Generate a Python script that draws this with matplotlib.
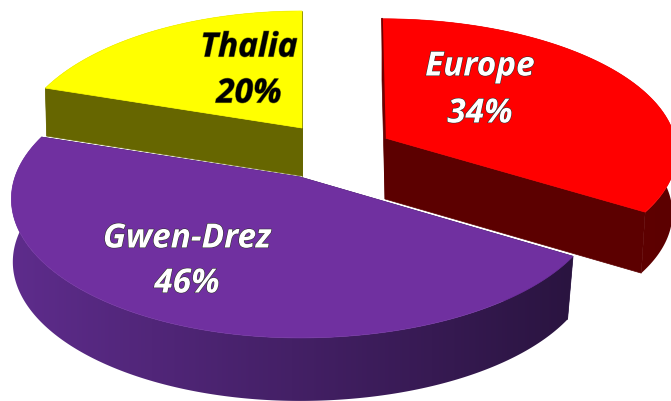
import numpy as np
import matplotlib
matplotlib.use("Agg")
import matplotlib.pyplot as plt
from matplotlib.colors import to_rgb
from matplotlib.patches import Polygon
import matplotlib.patheffects as pe

# DATA
names = ["Europe", "Gwen-Drez", "Thalia"]
shares = [34, 46, 20]

# STYLE
top_colors = ["#ff0000", "#7030a0", "#ffff00"]
wall_colors = ["#5c0000", "#2c1646", "#666600"]
rim_left = ["#6a0000", "#5e2c8c", "#666600"]
rim_right = ["#5c0000", "#2a1440", "#666600"]
text_colors = ["white", "white", "black"]
# apex x, apex y, half width left, half width right, y scale, perspective, depth, skew, taper
geometry = [
    (385, 139, 290, 290, 131, 0.099, 61, 3, 0.985),
    (300, 178, 285, 296, 135.5, 0.158, 63, 0, 0.98),
    (302, 129, 283, 283, 135.5, 0.158, 48, 0, 0.99),
]
label_pos = [(480, 68, 115), (187, 240, 285), (249, 49, 95)]


def project(theta, geo):
    cx, cy, al, ar, g, k, depth, skew, taper = geo
    f = -np.cos(theta)
    den = 1 - k * f
    s = np.sin(theta)
    return cx + np.where(s > 0, ar, al) * s / den + skew * f, cy + g * f / den


def drop(x, y, geo):
    # the lower edge narrows a little on the right hand side, hardly on the left
    dx = np.asarray(x, dtype=float) - geo[0]
    return geo[0] + np.where(dx > 0, dx * geo[8], dx * 0.995), np.asarray(y, dtype=float) + geo[6]


def draw_slice(ax, i, start, end, z):
    geo = geometry[i]
    theta = np.linspace(start, end, 240)
    x, y = project(theta, geo)
    bx, by = drop(x, y, geo)
    cx, cy = geo[0], geo[1]
    ax_b, ay_b = drop(cx, cy, geo)

    # flat cut walls
    ax.fill([x[0], cx, ax_b, bx[0]], [y[0], cy, ay_b, by[0]], color=wall_colors[i], lw=0.5, zorder=z)
    ax.fill([x[-1], cx, ax_b, bx[-1]], [y[-1], cy, ay_b, by[-1]], color=wall_colors[i], lw=0.5, zorder=z)

    # outer rim, left to right shade clipped to the rim outline
    c0 = np.array(to_rgb(rim_left[i]))
    c1 = np.array(to_rgb(rim_right[i]))
    ramp = np.linspace(0, 1, 256)[None, :, None]
    rim = Polygon(np.c_[np.r_[x, bx[::-1]], np.r_[y, by[::-1]]], closed=True,
                  facecolor="none", edgecolor="none", zorder=z)
    ax.add_patch(rim)
    im = ax.imshow(c0 + (c1 - c0) * ramp, extent=(x.min(), x.max(), 402, 0), aspect="auto", zorder=z + 0.1)
    im.set_clip_path(rim)

    # top face
    ax.fill(np.r_[cx, x], np.r_[cy, y], color=top_colors[i], lw=0.5, zorder=z + 0.2)


fig = plt.figure(figsize=(6.71, 4.02), dpi=100, facecolor="white")
ax = fig.add_axes([0, 0, 1, 1])
ax.axis("off")

edges = np.r_[0, np.cumsum(shares)] / sum(shares) * 2 * np.pi
draw_slice(ax, 2, edges[2], edges[3], 1)
draw_slice(ax, 0, edges[0], edges[1], 2)
draw_slice(ax, 1, edges[1], edges[2], 3)

# thin dark sliver on the back cut of Europe
ex, ey = project(edges[0], geometry[0])
ax.plot([ex, geometry[0][0]], [ey, geometry[0][1]], color="#700000", lw=1.2, zorder=2.5)

ax.set_xlim(0, 671)
ax.set_ylim(402, 0)

for i, name in enumerate(names):
    lx, ly1, ly2 = label_pos[i]
    shadow = "#303030" if text_colors[i] == "white" else "#8a8a00"
    for txt, yy in [(name, ly1), (str(shares[i]) + "%", ly2)]:
        ax.text(lx, yy, txt, color=text_colors[i], fontsize=24, family="Open Sans",
                fontweight="bold", fontstyle="italic", ha="center", va="center", zorder=5,
                path_effects=[pe.withStroke(linewidth=0.8, foreground=shadow)])

fig.savefig("out.png", dpi=100)
